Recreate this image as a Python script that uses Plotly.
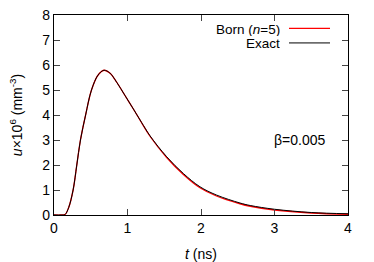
import plotly.graph_objects as go

# time (ns)
t_exact = [0, 0.1, 0.15, 0.2, 0.26, 0.31, 0.36, 0.43, 0.51, 0.6, 0.68, 0.76, 0.853, 0.966,
           1.08, 1.19, 1.306, 1.533, 1.76, 1.986, 2.21, 2.53, 2.67, 3.0, 3.5, 4.0]
u_exact = [0, 0, 0.02, 0.3, 1.0, 2.0, 3.0, 4.0, 5.0, 5.6, 5.79, 5.68, 5.31, 4.78,
           4.24, 3.71, 3.17, 2.33, 1.66, 1.13, 0.8, 0.48, 0.38, 0.23, 0.1, 0.05]
t_born = t_exact
u_born = [0, 0, 0.02, 0.3, 1.0, 2.0, 3.0, 4.0, 5.0, 5.6, 5.79, 5.68, 5.31, 4.78,
          4.24, 3.70, 3.15, 2.30, 1.62, 1.09, 0.76, 0.45, 0.35, 0.2, 0.08, 0.03]

x_ticks = [0, 1, 2, 3, 4]
y_ticks = [0, 1, 2, 3, 4, 5, 6, 7, 8]

FONT = "Liberation Sans, Arial, sans-serif"

fig = go.Figure()
fig.add_trace(go.Scatter(x=t_born, y=u_born, mode="lines", line=dict(color="#ff0000", width=1.3, shape="spline", smoothing=1.0),
                         name="Born", showlegend=False))
fig.add_trace(go.Scatter(x=t_exact, y=u_exact, mode="lines", line=dict(color="#000000", width=1, shape="spline", smoothing=1.0),
                         name="Exact", showlegend=False))

axis_common = dict(showgrid=False, zeroline=False, showline=True, linecolor="black", linewidth=1.3,
                   mirror="allticks", ticks="inside", ticklen=6, tickcolor="#444", tickwidth=1, automargin=False,
                   tickfont=dict(family=FONT, size=14, color="black"))
fig.update_xaxes(range=[0, 4], tickvals=x_ticks, **axis_common,
                 title=dict(text="<i>t</i> (ns)", font=dict(family=FONT, size=14, color="black"), standoff=14))
fig.update_yaxes(range=[0, 8], tickvals=y_ticks, **axis_common,
                 title=dict(text="<i>u</i>×10<sup>6</sup> (mm<sup>-3</sup>)", font=dict(family=FONT, size=14, color="black"), standoff=16))

PW, PH = 294, 200.5
L, T = 54, 14.5

def px(x):
    return (x - L) / PW

def py(y):
    return (T + PH - y) / PH

# legend (text right, sample to its right), in paper coords
fig.add_annotation(xref="paper", yref="paper", x=px(281), y=py(29), xanchor="right", yanchor="middle",
                   text="Born (<i>n</i>=5)", showarrow=False, font=dict(family=FONT, size=13.5, color="black"),
                   borderpad=0, height=13)
fig.add_annotation(xref="paper", yref="paper", x=px(281), y=py(43), xanchor="right", yanchor="middle",
                   text="Exact", showarrow=False, font=dict(family=FONT, size=13.5, color="black"), borderpad=0, height=13)
fig.add_shape(type="line", xref="paper", yref="paper", x0=px(289), x1=px(330),
              y0=py(28), y1=py(28), line=dict(color="#ff0000", width=1.3))
fig.add_shape(type="line", xref="paper", yref="paper", x0=px(289), x1=px(330),
              y0=py(42.5), y1=py(42.5), line=dict(color="#000000", width=1))
fig.add_annotation(xref="paper", yref="paper", x=px(326), y=py(140), xanchor="right", yanchor="middle",
                   text="β=0.005", showarrow=False, font=dict(family=FONT, size=14, color="black"), borderpad=0)

fig.update_layout(width=374, height=262, margin=dict(l=L, r=26, t=T, b=47),
                  paper_bgcolor="white", plot_bgcolor="white")
fig.write_html("out.html", config={"displayModeBar": False},
               post_script="document.body.style.margin='0';document.body.style.overflow='hidden';")
